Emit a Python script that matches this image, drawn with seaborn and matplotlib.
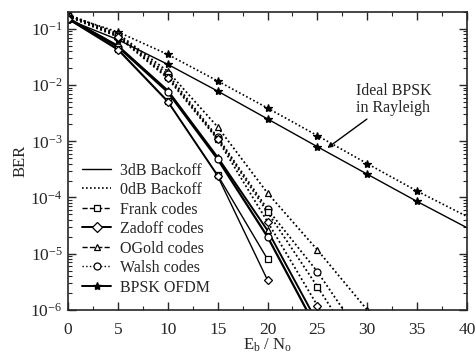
import numpy as np
import pandas as pd
import seaborn as sns
import matplotlib
matplotlib.use("Agg")
from matplotlib import pyplot as plt
from matplotlib.lines import Line2D
from matplotlib.ticker import MultipleLocator, LogLocator

# Eb/No points (dB)
x_full = [0, 5, 10, 15, 20, 25, 30, 35, 40]
x_0db = [0, 5, 10, 15, 20, 25, 30]
x_3db_short = [0, 5, 10, 15, 20]
x_3db_long = [0, 5, 10, 15, 20, 25]

# BPSK OFDM (3dB curve sits on ideal BPSK in Rayleigh)
bpsk_3db = [0.146, 0.064, 0.0233, 0.0078, 0.0025, 0.00080, 0.00026, 8.5e-5, 2.9e-5]
bpsk_0db = [0.17, 0.088, 0.035, 0.0118, 0.0039, 0.00126, 0.00040, 1.3e-4, 4.6e-5]

# 0dB backoff (dotted)
ogold_0db = [0.18, 0.082, 0.0175, 0.0018, 1.2e-4, 1.17e-5, 1.0e-6]
walsh_0db = [0.175, 0.078, 0.0155, 0.00118, 6.2e-5, 4.8e-6, 2.4e-7]
frank_0db = [0.17, 0.075, 0.0140, 0.00112, 5.5e-5, 2.6e-6, 1.1e-7]
zadoff_0db = [0.165, 0.072, 0.0132, 0.00108, 3.7e-5, 1.2e-6, 5e-8]

# 3dB backoff (solid)
frank_3db = [0.15, 0.044, 0.0052, 2.5e-4, 8.0e-6]
zadoff_3db = [0.148, 0.042, 0.0050, 2.4e-4, 3.4e-6]
ogold_3db = [0.155, 0.050, 0.0080, 5.2e-4, 2.6e-5, 6e-7]
walsh_3db = [0.152, 0.048, 0.0075, 4.8e-4, 2.0e-5, 4.4e-7]

sns.set_style("ticks")
plt.rcParams['font.family'] = ['Liberation Serif', 'DejaVu Serif']
plt.rcParams['mathtext.fontset'] = 'custom'
plt.rcParams['mathtext.rm'] = 'Liberation Serif'
plt.rcParams['mathtext.it'] = 'Liberation Serif:italic'
plt.rcParams['font.size'] = 11.5

fig = plt.figure(figsize=(4.76, 3.6), dpi=100)
ax = fig.add_axes([0.143, 0.139, 0.838, 0.828])

dot = (0, (1, 1.4))
mk = dict(markerfacecolor='white', markeredgecolor='black', markersize=5, markeredgewidth=0.9)

def draw(x, y, ls, lw, marker, ms=5, filled=False, every=None):
    kw = dict(mk)
    kw['markersize'] = ms
    if filled:
        kw['markerfacecolor'] = 'black'
    sns.lineplot(x=x, y=y, ax=ax, color='black', linestyle=ls, linewidth=lw,
                 marker=marker, markevery=every, sort=False, **kw)

draw(x_full, bpsk_0db, dot, 1.2, '*', ms=6, filled=True, every=list(range(8)))
draw(x_full, bpsk_3db, '-', 1.0, '*', ms=6, filled=True, every=list(range(8)))

draw(x_0db, ogold_0db, dot, 1.3, '^')
draw(x_0db, walsh_0db, dot, 1.3, 'o')
draw(x_0db, frank_0db, dot, 1.3, 's')
draw(x_0db, zadoff_0db, dot, 1.3, 'D', ms=4.5)

draw(x_3db_long, ogold_3db, '-', 1.4, '^')
draw(x_3db_long, walsh_3db, '-', 1.6, 'o')
draw(x_3db_short, frank_3db, '-', 1.0, 's')
draw(x_3db_short, zadoff_3db, '-', 1.0, 'D', ms=4.5)

ax.set_yscale('log')
ax.set_xlim(0, 40)
ax.set_ylim(1e-6, 0.2)
ax.xaxis.set_major_locator(MultipleLocator(5))
ax.xaxis.set_minor_locator(MultipleLocator(2.5))
ax.yaxis.set_major_locator(LogLocator(base=10, numticks=10))
ax.yaxis.set_minor_locator(LogLocator(base=10, subs=np.arange(2, 10), numticks=10))
ax.tick_params(which='both', direction='in', top=True, right=True, labelsize=12.5)
ax.tick_params(which='major', length=5.5, width=1)
ax.tick_params(which='minor', length=3, width=0.8)
ax.tick_params(axis='x', which='major', pad=9)
ax.tick_params(axis='y', which='major', pad=4)
for s in ax.spines.values():
    s.set_linewidth(1.2)

ax.set_xlabel(r'E$_\mathregular{b}$ / N$_\mathregular{o}$', fontsize=12, labelpad=-1)
ax.set_ylabel('BER', fontsize=12, labelpad=1)

ax.annotate('Ideal BPSK\nin Rayleigh', xy=(26.0, 7.6e-4), xytext=(28.9, 5.6e-3),
            fontsize=11.5, ha='left', va='center', linespacing=1.1,
            arrowprops=dict(arrowstyle='-|>', color='black', lw=1.0,
                            mutation_scale=7, shrinkA=0, shrinkB=0))

handles = [
    Line2D([], [], color='black', linestyle='-', linewidth=1.0),
    Line2D([], [], color='black', linestyle=dot, linewidth=1.2),
    Line2D([], [], color='black', linestyle='--', linewidth=1.0, marker='s', **mk),
    Line2D([], [], color='black', linestyle='-', linewidth=1.4, marker='D', **mk),
    Line2D([], [], color='black', linestyle='--', linewidth=1.0, marker='^', **mk),
    Line2D([], [], color='black', linestyle=':', linewidth=1.0, marker='o', **mk),
    Line2D([], [], color='black', linestyle='-', linewidth=1.4, marker='*',
           markerfacecolor='black', markeredgecolor='black', markersize=6),
]
labels = ['3dB Backoff', '0dB Backoff', 'Frank codes', 'Zadoff codes',
          'OGold codes', 'Walsh codes', 'BPSK OFDM']
ax.legend(handles, labels, loc='lower left', frameon=False, fontsize=11.5,
          handlelength=1.8, handletextpad=0.55, labelspacing=0.22,
          borderaxespad=0.5, bbox_to_anchor=(0.0, 0.0))

fig.savefig('out.png', dpi=100)
